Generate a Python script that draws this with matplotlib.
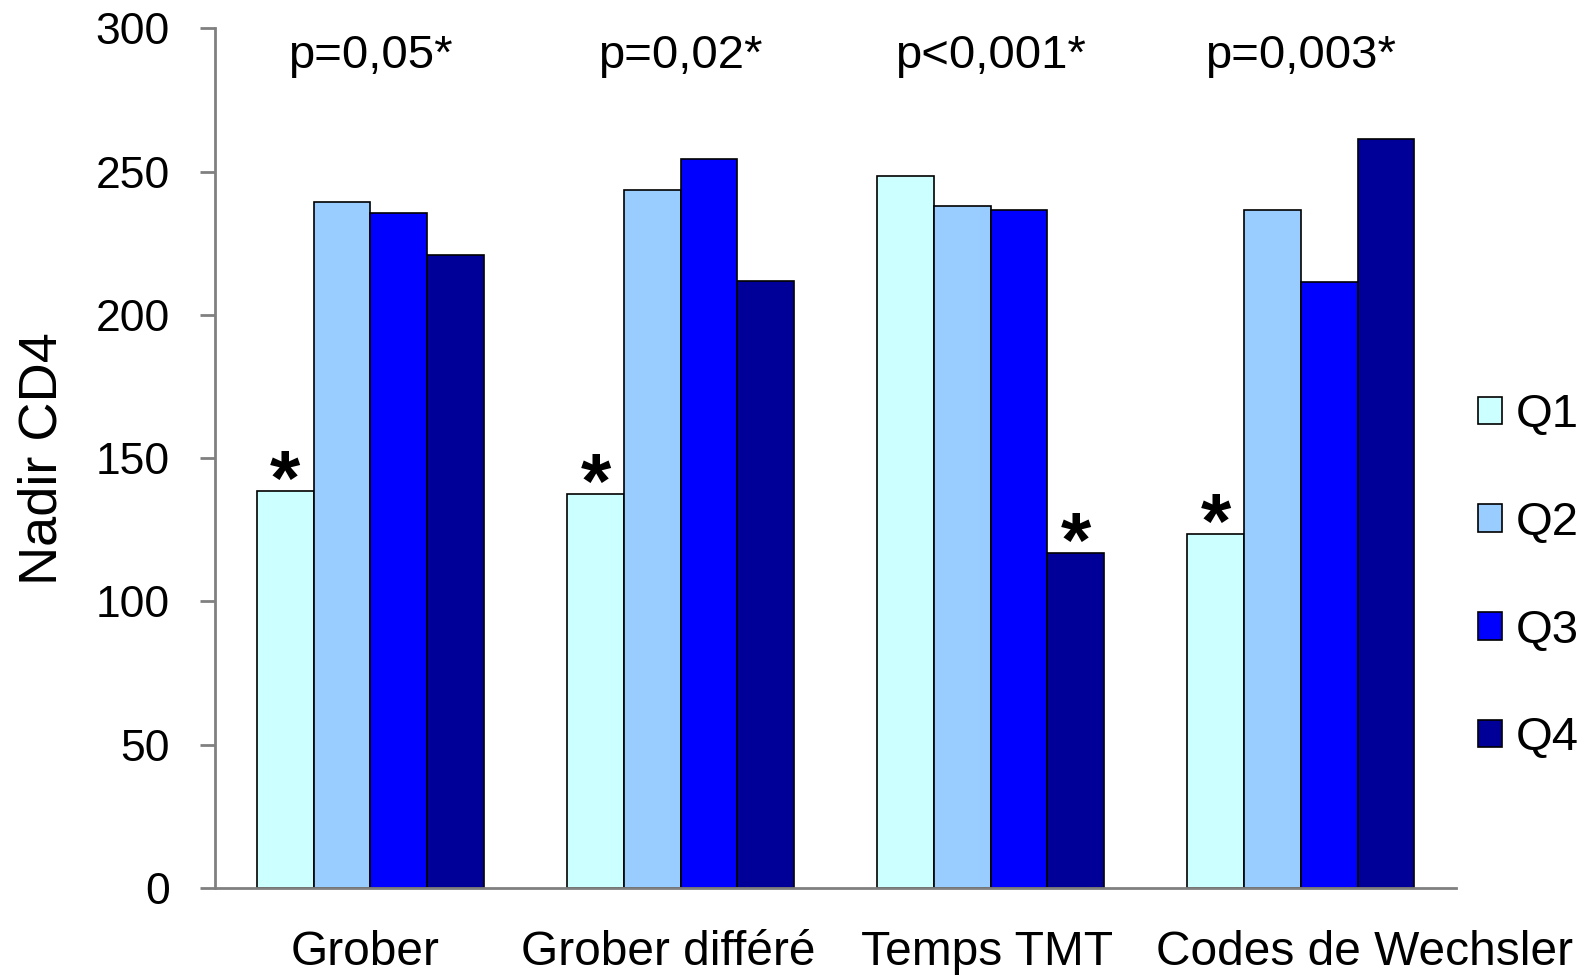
import numpy as np
import matplotlib.pyplot as plt

categories = ['Grober', 'Grober différé', 'Temps TMT', 'Codes de Wechsler']
series = ['Q1', 'Q2', 'Q3', 'Q4']
q1 = [138.5, 137.5, 248.5, 123.5]
q2 = [239.5, 243.5, 238.0, 236.5]
q3 = [235.5, 254.5, 236.5, 211.5]
q4 = [221.0, 212.0, 117.0, 261.5]
p_values = ['p=0,05*', 'p=0,02*', 'p<0,001*', 'p=0,003*']
# which bar gets a star: (category index, series index)
stars = [(0, 0), (1, 0), (2, 3), (3, 0)]
colors = ['#CCFFFF', '#99CCFF', '#0000FF', '#000099']

# the long last label is nudged right like in the original
label_shift = [-0.018, -0.039, -0.011, 0.204]

plt.rcParams['font.family'] = ['Liberation Sans', 'DejaVu Sans']

fig = plt.figure(figsize=(15.86, 9.77), dpi=100)
ax = fig.add_axes([0.1358, 0.0911, 0.7822, 0.8799])

values = [q1, q2, q3, q4]
x = np.arange(len(categories))
width = 0.183
for i, (name, vals) in enumerate(zip(series, values)):
    ax.bar(x + (i - 1.5) * width, vals, width, color=colors[i],
           edgecolor='black', linewidth=1.2, label=name)

for ci, si in stars:
    ax.text(x[ci] + (si - 1.5) * width, values[si][ci] + 15, '*',
            ha='center', va='top', fontsize=56, fontweight='bold')

for xi, p in zip(x, p_values):
    ax.text(xi, 290.5, p, ha='center', va='center', fontsize=34)

ax.set_xlim(-0.5, len(categories) - 0.5)
ax.set_ylim(0, 300)
ax.set_yticks(range(0, 301, 50))
ax.set_xticks(x + np.array(label_shift))
ax.set_xticklabels(categories, fontsize=34.5)
ax.tick_params(axis='x', length=0, pad=30)
ax.tick_params(axis='y', length=11, width=2, color='#808080', labelsize=32, pad=22)

for s in ['top', 'right']:
    ax.spines[s].set_visible(False)
for s in ['left', 'bottom']:
    ax.spines[s].set_color('#808080')
    ax.spines[s].set_linewidth(2)

ax.set_ylabel('Nadir CD4', fontsize=39, labelpad=20)

ax.legend(loc='center left', bbox_to_anchor=(1.0177, 0.362), frameon=False, fontsize=34,
          borderaxespad=0, borderpad=0,
          handlelength=0.52, handleheight=0.52, handletextpad=0.28, labelspacing=1.35)

fig.savefig('out.png', dpi=100)
